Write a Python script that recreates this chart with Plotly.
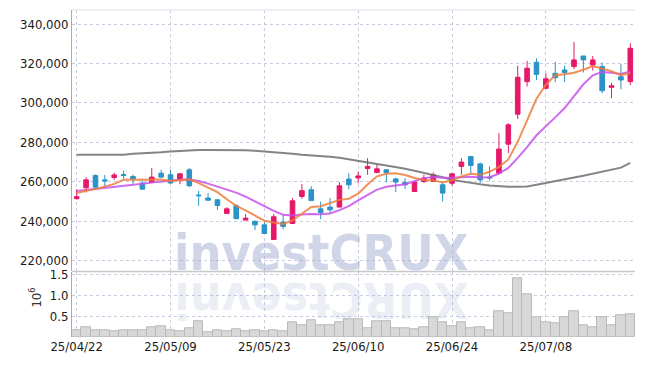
import plotly.graph_objects as go
from plotly.subplots import make_subplots

dates = ["25/04/22","25/04/23","25/04/24","25/04/25","25/04/28","25/04/29","25/04/30","25/05/02","25/05/07","25/05/08",
         "25/05/09","25/05/12","25/05/13","25/05/14","25/05/15","25/05/16","25/05/19","25/05/20","25/05/21","25/05/22",
         "25/05/23","25/05/26","25/05/27","25/05/28","25/05/29","25/05/30","25/06/02","25/06/04","25/06/05","25/06/09",
         "25/06/10","25/06/11","25/06/12","25/06/13","25/06/16","25/06/17","25/06/18","25/06/19","25/06/20","25/06/23",
         "25/06/24","25/06/25","25/06/26","25/06/27","25/06/30","25/07/01","25/07/02","25/07/03","25/07/04","25/07/07",
         "25/07/08","25/07/09","25/07/10","25/07/11","25/07/14","25/07/15","25/07/16","25/07/17","25/07/18","25/07/21"]

opens = [251500,257000,263200,261000,262200,263700,262700,259300,259700,264400,
         263600,261400,266100,253300,251800,250900,244000,247900,240600,240000,
         238200,230800,239600,238900,252600,256000,246300,247200,247200,261400,
         262000,266800,264700,266100,261500,259700,255100,260200,260200,258500,
         259300,267800,272800,269100,262400,264400,279100,294300,310800,320600,
         307400,315000,316700,318400,323800,319200,318400,307900,313300,310800]
highs = [256300,262400,263700,263500,264700,265700,263700,260700,267000,266100,
         266100,264100,267000,255500,254300,250900,247200,248700,243600,240400,
         239600,243700,243000,251800,258800,257800,250000,251800,259900,264400,
         265200,272000,269100,266400,261900,261900,259900,263600,264800,260200,
         264100,272000,273200,269800,267800,284700,289700,318900,321300,322600,
         315000,320900,318900,330900,323800,323800,320400,310300,319600,330200]
lows = [251000,254600,256000,257600,261000,261500,259000,256300,259700,261900,
        259000,258800,257300,247900,250700,245800,244000,241300,240600,235600,
        233800,230800,235900,238900,251400,250500,241100,244200,247200,256300,
        259300,263600,264400,259700,254800,256300,255100,259400,260200,250000,
        258000,263600,264400,259400,260700,264400,274600,291900,308300,311600,
        307400,310500,310500,317100,315400,316400,304900,302400,306900,309100]
closes = [252500,261000,257300,260500,263500,263300,261400,256300,262400,262400,
          259400,264100,258000,253000,250700,248000,246300,241300,241600,238200,
          233800,242300,237400,250400,255500,250500,244500,245800,258000,258500,
          263000,267800,266600,264700,259900,258500,259900,261900,263600,254300,
          264100,270000,268300,261000,262000,276600,288900,313000,317600,314500,
          312200,312800,315400,321800,321800,321800,306200,308700,311600,327700]

ma5 = [254300,255500,256300,257500,258960,261120,261200,261000,261380,261160,
       260380,260920,261260,259380,257040,254760,251200,247860,245580,243080,
       240240,239440,238660,240420,243880,247220,247660,249340,250860,251460,
       253960,258620,262780,264120,264400,263500,261920,260980,260760,259640,
       260760,262780,264060,263540,265080,267580,271360,280300,291620,302120,
       309240,314020,314500,315340,316800,318720,317400,316060,314020,315200]
ma10 = [255300,255800,256200,256700,257300,257900,258500,259000,259600,260060,
        260750,261060,261130,260380,259100,257570,256060,254560,252480,250060,
        247500,245320,243260,243000,243480,243730,243550,244000,245640,247670,
        250590,253140,256060,257490,257930,258730,260270,261880,262440,262020,
        262130,262350,262520,262150,262360,264170,267070,272180,277580,283600,
        288410,292690,297400,303480,309460,313980,315710,315280,314680,316000]
ma_long = [273700,273700,273700,273650,273600,273700,274200,274400,274700,275000,
           275400,275700,276000,276100,276200,276200,276200,276100,276000,275700,
           275400,275100,274700,274200,273700,273400,273200,272700,272200,271500,
           270700,269900,269100,268300,267600,266600,265600,264600,263600,262300,
           261000,260200,259500,258800,258200,257800,257500,257500,257700,258500,
           259500,260400,261300,262200,263100,264100,265100,266200,267200,269600]

volume = [155000,243000,171000,171000,147000,171000,171000,155000,243000,268000,
          171000,147000,220000,389000,106000,171000,130000,195000,130000,171000,
          147000,171000,130000,365000,292000,413000,292000,292000,365000,437000,
          437000,220000,389000,389000,220000,220000,195000,243000,485000,348000,
          268000,365000,220000,243000,171000,630000,582000,1427000,1024000,485000,
          365000,324000,485000,630000,292000,243000,485000,292000,534000,558000]

x_ticks = ["25/04/22","25/05/09","25/05/23","25/06/10","25/06/24","25/07/08"]
price_ticks = [220000,240000,260000,280000,300000,320000,340000]
vol_ticks = [500000,1000000,1500000]
vol_tick_text = ["0.5","1.0","1.5"]

UP = "#e5186a"
DOWN = "#2b93c6"
FONT = "DejaVu Sans Condensed, DejaVu Sans, sans-serif"
GRID = "#c9cbe0"

fig = make_subplots(rows=2, cols=1, shared_xaxes=True, vertical_spacing=0.0)

fig.add_trace(go.Candlestick(
    x=dates, open=opens, high=highs, low=lows, close=closes,
    increasing=dict(line=dict(color=UP, width=1), fillcolor=UP),
    decreasing=dict(line=dict(color=DOWN, width=1), fillcolor=DOWN),
    whiskerwidth=0, showlegend=False, hoverinfo="skip"), row=1, col=1)

fig.add_trace(go.Scatter(x=dates, y=ma_long, mode="lines",
                         line=dict(color="rgba(110,110,110,0.85)", width=2), showlegend=False), row=1, col=1)
fig.add_trace(go.Scatter(x=dates, y=ma10, mode="lines",
                         line=dict(color="rgba(200,80,235,0.85)", width=2), showlegend=False), row=1, col=1)
fig.add_trace(go.Scatter(x=dates, y=ma5, mode="lines",
                         line=dict(color="rgba(240,125,60,0.85)", width=2), showlegend=False), row=1, col=1)

fig.add_trace(go.Bar(x=dates, y=volume, marker=dict(color="#d8d8d8", line=dict(color="#b8b8b8", width=1)),
                     showlegend=False, hoverinfo="skip"), row=2, col=1)

# the page body has an 8px margin, so the figure is sized/margined to land where the reference does
fig.update_layout(
    width=637, height=358,
    margin=dict(l=64, r=10, t=2, b=29, autoexpand=False),
    paper_bgcolor="white", plot_bgcolor="white",
    font=dict(family=FONT, size=13, color="#1a1a1a"),
    bargap=0,
    showlegend=False,
)

common_x = dict(type="category", range=[-0.5, 59.5], tickmode="array", tickvals=x_ticks,
                showgrid=True, gridcolor=GRID, griddash="dot", gridwidth=1,
                showline=False, zeroline=False, ticks="", fixedrange=True)
fig.update_xaxes(**common_x)
fig.update_xaxes(rangeslider_visible=False, showticklabels=False, row=1, col=1)
fig.update_xaxes(showticklabels=True, ticktext=x_ticks, row=2, col=1)

fig.update_yaxes(domain=[0.203, 1.0], range=[215000, 347100], tickmode="array", tickvals=price_ticks,
                 tickformat=",d", showgrid=True, gridcolor=GRID, griddash="dot",
                 showline=True, linecolor="#aaaaaa", linewidth=1, ticks="", zeroline=False,
                 row=1, col=1)
fig.update_yaxes(domain=[0.0, 0.198], range=[0, 1563000], tickmode="array", tickvals=vol_ticks,
                 ticktext=vol_tick_text, showgrid=True, gridcolor=GRID, griddash="dot",
                 showline=True, linecolor="#aaaaaa", linewidth=1, ticks="", zeroline=False,
                 row=2, col=1)

# separator between panels and light top border
fig.add_shape(type="line", xref="paper", yref="paper", x0=0, x1=1, y0=0.2005, y1=0.2005,
              line=dict(color="#c8c8c8", width=1.5))
fig.add_shape(type="line", xref="paper", yref="paper", x0=0, x1=1, y0=1, y1=1,
              line=dict(color="#e2e2ea", width=1))

fig.add_annotation(text="10<sup>6</sup>", xref="paper", yref="paper", x=-0.066, y=0.12,
                   xanchor="center", yanchor="middle",
                   textangle=-90, showarrow=False, font=dict(family=FONT, size=13, color="#333"))

fig.add_annotation(text="<b>investCRUX</b>", xref="paper", yref="paper", x=0.443, y=0.257,
                   xanchor="center", yanchor="middle", height=43, valign="middle",
                   showarrow=False, font=dict(family=FONT, size=50, color="rgba(150,163,205,0.45)"))
fig.add_annotation(text="<b>XURCtsevni</b>", xref="paper", yref="paper", x=0.443, y=0.113,
                   xanchor="center", yanchor="middle", height=43, valign="middle",
                   textangle=180, showarrow=False, font=dict(family=FONT, size=50, color="rgba(150,163,205,0.18)"))

fig.write_html("out.html")
